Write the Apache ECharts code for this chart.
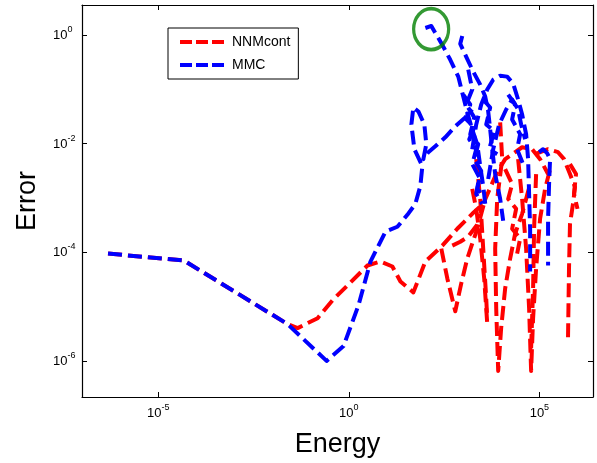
<!DOCTYPE html>
<html><head><meta charset="utf-8">
<script src="https://cdn.jsdelivr.net/npm/echarts@6/dist/echarts.min.js"></script>
<style>html,body{margin:0;padding:0;background:#fff}#c{width:597px;height:463px}</style>
</head><body><div id="c"></div>
<script>
// axis ticks / ranges
const xTicks = [1e-5, 1, 1e5];
const yTicks = [1e-6, 1e-4, 1e-2, 1];
const xRange = [1e-7, 2.55e6];
const yRange = [2.19e-7, 3.55];

// NNMcont (red) branches: [Energy, Error]
const redA = [[4.82e-7,9.51e-5],[4.71e-5,7.08e-5],[0.0248,4.79e-6],[0.0454,4.05e-6],[0.152,6.17e-6],[0.374,1.32e-5],[0.925,2.47e-5],[3.09,5.74e-5],[6.76,6.79e-5],[13.9,5.50e-5],[22.6,2.92e-5],[49.4,1.84e-5],[102,6.79e-5],[284,1.33e-4],[701,2.72e-4],[1731,5.12e-4],[3357,7.80e-4],[7362,2.76e-3],[12650,5.19e-3],[23120,6.97e-3],[35240,8.59e-3],[64420,7.90e-3],[104300,5.19e-3],[169000,2.76e-3]];
const redB = [[267,1.17e-4],[384,3.32e-5],[621,8.28e-6],[892,2.69e-5],[1281,7.71e-5],[2339,2.72e-4],[3793,9.63e-4]];
const redC = [[519,1.33e-4],[839,1.57e-4],[1361,1.95e-4],[2339,3.22e-4]];
const redD = [[1731,1.47e-3],[2203,6.32e-4],[2805,1.79e-4],[3565,3.32e-5],[4276,4.99e-6]];
const redD2 = [[2203,5.19e-3],[2805,9.63e-4],[3357,1.17e-4],[4027,1.43e-5],[4276,6.17e-6]];
const redE = [[9354,0.0246],[10570,5.19e-3],[7816,9.63e-4],[6918,1.17e-4],[7362,9.39e-6],[8299,6.62e-7],[9931,4.05e-6],[12650,2.18e-5],[17100,7.71e-5],[23120,2.21e-4],[35240,5.12e-4],[57150,1.81e-3]];
const redF = [[27670,5.19e-3],[35240,9.63e-4],[44870,1.17e-4],[53700,9.39e-6],[60670,6.62e-7],[68390,6.17e-6],[82000,5.06e-5],[104300,4.15e-4],[141000,1.47e-3],[190600,3.40e-3]];
const redF2 = [[82000,2.76e-3],[72620,2.72e-4],[68390,2.18e-5],[60670,1.74e-6]];
const redG = [[77130,6.40e-3],[169000,7.90e-3],[309000,6.97e-3],[443600,5.19e-3],[635300,2.76e-3],[859000,1.60e-3],[762000,7.80e-4],[635300,3.36e-4],[598400,5.06e-5],[563600,2.65e-6]];
const redH = [[12650,3.40e-3],[19280,1.81e-3],[15170,9.63e-4],[24550,6.32e-4],[19280,2.72e-4],[31260,1.79e-4],[26060,9.51e-5]];
const redI = [[635300,4.20e-3],[914000,2.76e-3],[809000,1.19e-3],[1.0e6,6.32e-4]];

// MMC (blue) branches
const blueA = [[4.82e-7,9.51e-5],[4.71e-5,7.08e-5],[0.0248,4.79e-6],[0.261,1.01e-6],[0.727,1.90e-6],[1.79,1.06e-5],[3.70,6.79e-5],[9.14,2.40e-4],[18.8,2.96e-4],[34.4,4.91e-4],[55.7,7.80e-4],[75.3,1.66e-3],[85,3.86e-3],[52.5,7.90e-3],[43.8,0.0226],[49.4,0.0463],[66.8,0.0391],[95.9,0.0226],[108,9.75e-3],[90.3,5.19e-3],[122,6.97e-3],[186,8.96e-3],[340,0.0131],[621,0.0208],[1135,0.0304],[1731,0.0425]];
const blueB = [[102,1.34],[146,1.46],[186,1.09],[284,0.656],[459,0.349],[745,0.171],[1006,0.0736],[1281,0.0375],[1731,0.0183],[2339,9.75e-3],[2805,3.86e-3],[3357,1.66e-3],[3793,7.80e-4]];
const blueC = [[947,0.959],[839,0.685],[1206,0.396],[1838,0.211],[2805,0.122],[3793,0.0736],[4539,0.0391],[5117,0.0183],[5781,7.90e-3],[6918,2.76e-3],[9354,9.63e-4],[11220,3.81e-4]];
const blueD = [[1731,7.90e-3],[2203,0.0226],[2978,0.0525],[4276,0.0988],[6138,0.150],[9354,0.178],[14260,0.171],[20510,0.127],[27670,0.0648],[35240,0.0345],[44870,0.0149],[50580,5.19e-3],[53700,1.19e-3],[57150,2.72e-4],[57150,4.46e-5]];
const blueE = [[4539,2.24e-3],[6138,7.90e-3],[8810,0.0226],[13430,0.0425],[19280,0.0648],[27670,0.0425],[33190,0.0226],[42270,0.0120]];
const blueF = [[98200,6.97e-3],[125000,7.90e-3],[159200,6.68e-3],[190600,5.19e-3],[179500,1.81e-3],[169000,4.15e-4],[169000,5.74e-5]];
const blueG = [[1006,0.080],[1535,0.0525],[1206,0.0279],[1954,0.0200],[1445,0.0120],[2203,7.90e-3],[1731,4.20e-3],[2638,2.43e-3],[2203,1.19e-3],[3162,7.80e-4]];
const blueH = [[15170,0.080],[23120,0.0525],[19280,0.0279],[31260,0.0149],[26060,7.90e-3],[37400,4.20e-3]];
const blueI = [[1361,0.229],[1731,0.0988],[1206,0.0525],[1954,0.0304],[1535,0.0149],[2485,9.75e-3],[1954,5.19e-3],[2978,3.13e-3],[2339,1.47e-3],[3565,1.05e-3]];
const blueJ = [[3357,0.0648],[5117,0.0463],[4027,0.0226],[6518,0.0169],[4822,7.90e-3],[7816,6.40e-3]];

// highlighted point (green ellipse)
const circleMark = [[144.5, 1.28]];

const redParts = [redA, redB, redC, redD, redD2, redE, redF, redF2, redG, redH, redI];
const blueParts = [blueA, blueB, blueC, blueD, blueE, blueF, blueG, blueH, blueI, blueJ];

const FONT = "'Liberation Sans', Arial, sans-serif";
const RED = '#ff0000', BLUE = '#0000ff';

function lineSeries(name, color, data) {
  return {
    type: 'line', name: name, data: data, xAxisIndex: 0, yAxisIndex: 0,
    symbol: 'none', showSymbol: false, smooth: false, silent: true,
    lineStyle: { color: color, width: 4, type: [14, 6], cap: 'butt', join: 'round' },
    itemStyle: { color: color },
    animation: false
  };
}
function fmt(v) {
  const e = Math.round(Math.log10(v));
  return '{b|10}{s|' + e + '}';
}
const richLbl = {
  b: { fontSize: 13, fontFamily: FONT, color: '#000', lineHeight: 14, verticalAlign: 'bottom' },
  s: { fontSize: 9, fontFamily: FONT, color: '#000', lineHeight: 14, verticalAlign: 'bottom', padding: [0, 0, 8, 0] }
};
function makeAxis(pos, range, ticks, showLabels, extra) {
  const a = {
    type: 'log', position: pos, min: range[0], max: range[1],
    axisLine: { show: true, onZero: false, lineStyle: { color: '#000', width: 1.2 } },
    axisTick: { show: true, inside: true, length: 5, customValues: ticks, lineStyle: { color: '#000', width: 1 } },
    minorTick: { show: false },
    splitLine: { show: false },
    axisLabel: { show: showLabels, customValues: ticks, formatter: fmt, rich: richLbl }
  };
  return Object.assign(a, extra || {});
}

const series = [];
redParts.forEach(p => series.push(lineSeries('NNMcont', RED, p)));
blueParts.forEach(p => series.push(lineSeries('MMC', BLUE, p)));
series.push({
  type: 'scatter', name: 'mark', data: circleMark, xAxisIndex: 0, yAxisIndex: 0,
  symbol: 'circle', symbolSize: [35, 41], silent: true, z: 5,
  itemStyle: { color: 'rgba(0,0,0,0)', borderColor: '#008000', borderWidth: 3.5 },
  animation: false
});

const chart = echarts.init(document.getElementById('c'), null, { renderer: 'canvas' });
chart.setOption({
  backgroundColor: '#fff',
  animation: false,
  grid: { left: 82, right: 4, top: 5, bottom: 63.5, containLabel: false },
  legend: {
    data: ['NNMcont', 'MMC'], orient: 'vertical', left: 168, top: 28,
    itemWidth: 44, itemHeight: 14, itemGap: 9, padding: [7, 8, 7, 10],
    borderColor: '#000', borderWidth: 1, backgroundColor: '#fff',
    selectedMode: false,
    itemStyle: { opacity: 0, borderWidth: 0 },
    lineStyle: { width: 4, type: [12, 4], cap: 'butt' },
    textStyle: { fontSize: 14, fontFamily: FONT, color: '#000', padding: [0, 0, 0, 3] }
  },
  xAxis: [
    makeAxis('bottom', xRange, xTicks, true, {
      name: 'Energy', nameLocation: 'middle', nameGap: 34,
      nameTextStyle: { fontSize: 27, fontFamily: FONT, color: '#000' }
    }),
    makeAxis('top', xRange, xTicks, false)
  ],
  yAxis: [
    makeAxis('left', yRange, yTicks, true, {
      name: 'Error', nameLocation: 'middle', nameGap: 41,
      nameTextStyle: { fontSize: 27, fontFamily: FONT, color: '#000' }
    }),
    makeAxis('right', yRange, yTicks, false)
  ],
  series: series
});
chart.setOption({
  xAxis: [{ axisLabel: { margin: 9 } }, {}],
  yAxis: [{ axisLabel: { margin: 29, align: 'left' } }, {}]
});
</script>
</body></html>
